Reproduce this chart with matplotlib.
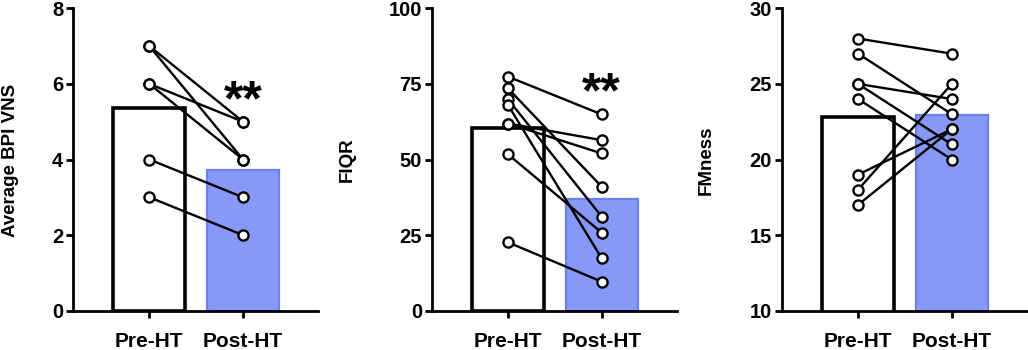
import matplotlib
matplotlib.use("Agg")
import matplotlib.pyplot as plt

plt.rcParams['font.family'] = ['Liberation Sans', 'DejaVu Sans']
plt.rcParams['font.weight'] = 'bold'

groups = ["Pre-HT", "Post-HT"]

# Panel 1: Average BPI VNS
bpi_bars = [5.35, 3.72]
bpi_pre = [7, 7, 6, 6, 4, 3]
bpi_post = [5, 4, 5, 4, 3, 2]

# Panel 2: FIQR
fiqr_bars = [60.5, 36.8]
fiqr_pre = [77.4, 73.5, 69.9, 68.0, 61.9, 61.9, 51.7, 22.6]
fiqr_post = [64.9, 41.0, 31.1, 17.3, 56.4, 52.0, 25.8, 9.6]

# Panel 3: FMness
fm_bars = [22.8, 22.95]
fm_pre = [28, 27, 25, 25, 24, 19, 18, 17]
fm_post = [27, 23, 24, 21, 20, 22, 25, 22]

panels = [
    dict(label="Average BPI VNS", bars=bpi_bars, pre=bpi_pre, post=bpi_post,
         ylim=(0, 8), yticks=[0, 2, 4, 6, 8], star=5.5, left=73, ylab_x=11),
    dict(label="FIQR", bars=fiqr_bars, pre=fiqr_pre, post=fiqr_post,
         ylim=(0, 100), yticks=[0, 25, 50, 75, 100], star=71.6, left=431.7, ylab_x=347),
    dict(label="FMness", bars=fm_bars, pre=fm_pre, post=fm_post,
         ylim=(10, 30), yticks=[10, 15, 20, 25, 30], star=None, left=781.7, ylab_x=706),
]

W, H = 1028, 350
fig = plt.figure(figsize=(W / 100, H / 100), dpi=100)

ax_w = 245
top_px, bot_px = 8.3, 310.7
blue_fill = '#8798F8'
blue_edge = '#6C80F2'

for p in panels:
    ax = fig.add_axes([p['left'] / W, (H - bot_px) / H, ax_w / W, (bot_px - top_px) / H])
    x = [0, 1]
    ax.bar(x[0], p['bars'][0], width=0.77, color='white', edgecolor='black',
           linewidth=2.6, zorder=1)
    ax.bar(x[1], p['bars'][1], width=0.77, color=blue_fill, edgecolor=blue_edge,
           linewidth=1.6, zorder=1)
    for a, b in zip(p['pre'], p['post']):
        ax.plot(x, [a, b], color='black', linewidth=1.7, zorder=2,
                marker='o', markersize=7.3, markerfacecolor='white',
                markeredgecolor='black', markeredgewidth=1.7)
    ax.set_xlim(-0.815, 1.8)
    ax.set_ylim(*p['ylim'])
    ax.set_yticks(p['yticks'])
    ax.set_xticks(x)
    ax.set_xticklabels(groups, fontsize=15, fontweight='bold')
    for lab in ax.get_yticklabels():
        lab.set_fontsize(14.5)
        lab.set_fontweight('bold')
    for s in ['top', 'right']:
        ax.spines[s].set_visible(False)
    for s in ['left', 'bottom']:
        ax.spines[s].set_linewidth(2.0)
    ax.tick_params(axis='y', length=5, width=2.0, pad=2)
    ax.tick_params(axis='x', length=5, width=2.0, pad=10)
    ax.set_facecolor('none')
    for spine in ax.spines.values():
        spine.set_zorder(3)
    if p['star'] is not None:
        ax.text(1, p['star'], "**", ha='center', va='center', fontsize=36,
                fontweight='bold', color='black', zorder=4)
    fig.text(p['ylab_x'] / W, (H - 160) / H, p['label'], rotation=90,
             ha='center', va='center', fontsize=13.5, fontweight='bold')

fig.savefig("out.png", dpi=100)
